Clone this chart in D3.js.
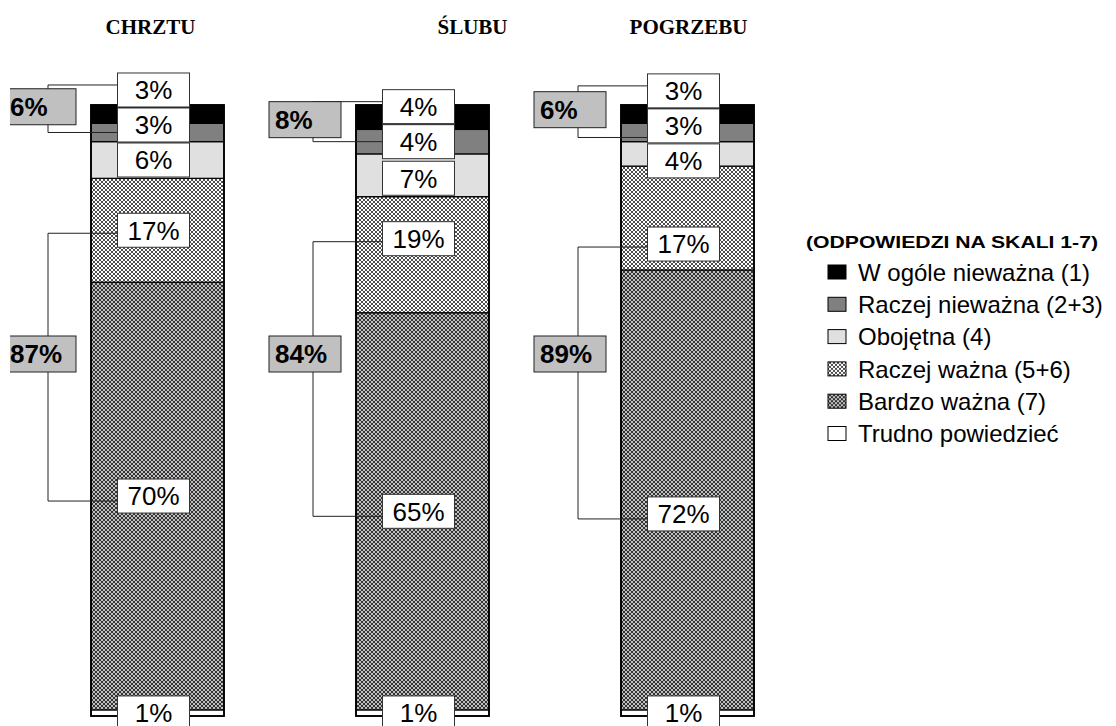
<!DOCTYPE html>
<html>
<head>
<meta charset="utf-8">
<script src="https://cdn.jsdelivr.net/npm/d3@7"></script>
<style>
  body { margin: 0; background: #fff; }
  text { font-family: Arial, "Liberation Sans", sans-serif; }
</style>
</head>
<body>
<svg id="chart" width="1116" height="726"></svg>
<script>
// Data
const events = ['CHRZTU', 'ŚLUBU', 'POGRZEBU']
const categories = ['W ogóle nieważna (1)', 'Raczej nieważna (2+3)', 'Obojętna (4)',
  'Raczej ważna (5+6)', 'Bardzo ważna (7)', 'Trudno powiedzieć']
const wOgole = [3, 4, 3]
const raczejNie = [3, 4, 3]
const obojetna = [6, 7, 4]
const raczejWazna = [17, 19, 17]
const bardzoWazna = [70, 65, 72]
const trudno = [1, 1, 1]
const legendTitle = '(ODPOWIEDZI NA SKALI 1-7)'

const keys = ['wOgole', 'raczejNie', 'obojetna', 'raczejWazna', 'bardzoWazna', 'trudno']
const series = { wOgole, raczejNie, obojetna, raczejWazna, bardzoWazna, trudno }

// Layout
const width = 1116
const height = 726
const barW = 133
const boxW = 72
const boxH = 34
const sumW = 72
const sumH = 36
const sumRowY = 354
const titleShift = [-7, 50, 1]
// hand-placed label nudges in the original (px)
const labelNudge = [
  {},
  { raczejWazna: -16, obojetna: 3 },
  { obojetna: 7, raczejWazna: 26, bardzoWazna: 24 }
]

const fills = {
  wOgole: '#000',
  raczejNie: '#808080',
  obojetna: '#e0e0e0',
  raczejWazna: 'url(#light)',
  bardzoWazna: 'url(#dark)',
  trudno: '#fff'
}

const svg = d3.select('#chart')
const defs = svg.append('defs')

let light = defs.append('pattern').attr('id', 'light')
  .attr('patternUnits', 'userSpaceOnUse').attr('width', 4).attr('height', 4)
light.append('rect').attr('width', 4).attr('height', 4).attr('fill', '#fff')
light.append('path').attr('d', 'M0,0L4,4M4,0L0,4')
  .attr('stroke', '#000').attr('stroke-width', 0.7)

let dark = defs.append('pattern').attr('id', 'dark')
  .attr('patternUnits', 'userSpaceOnUse').attr('width', 4).attr('height', 4)
dark.append('rect').attr('width', 4).attr('height', 4).attr('fill', '#9a9a9a')
dark.append('path').attr('d', 'M0,0L4,4M4,0L0,4')
  .attr('stroke', '#1a1a1a').attr('stroke-width', 0.8)
;[[2, 0], [2, 4], [0, 2], [4, 2]].forEach(p => {
  dark.append('circle').attr('cx', p[0]).attr('cy', p[1]).attr('r', 0.7).attr('fill', '#fff')
})

defs.append('clipPath').attr('id', 'clip')
  .append('rect').attr('x', 10).attr('y', 0).attr('width', width - 10).attr('height', height)

const x = d3.scaleBand()
  .domain(events)
  .range([91, 91 + 265 * 2 + barW])
  .paddingInner(1 - barW / 265)
  .paddingOuter(0)

const y = d3.scaleLinear().domain([0, 100]).range([716, 105])

const table = events.map((e, i) => {
  let row = { event: e }
  keys.forEach(k => { row[k] = series[k][i] })
  return row
})

const stack = d3.stack().keys(keys.slice().reverse())
const stacked = stack(table)

// Bars
let bars = svg.append('g')
stacked.forEach(s => {
  bars.selectAll(null)
    .data(s)
    .enter().append('rect')
    .attr('x', d => x(d.data.event))
    .attr('y', d => y(d[1]))
    .attr('width', x.bandwidth())
    .attr('height', d => y(d[0]) - y(d[1]))
    .attr('fill', fills[s.key])
    .attr('stroke', '#000')
    .attr('stroke-width', 1.2)
})
bars.selectAll('.outline')
  .data(events)
  .enter().append('rect')
  .attr('x', d => x(d))
  .attr('y', y(100))
  .attr('width', x.bandwidth())
  .attr('height', y(0) - y(100))
  .attr('fill', 'none')
  .attr('stroke', '#000')
  .attr('stroke-width', 1.8)

// Titles
svg.append('g').selectAll('text')
  .data(events)
  .enter().append('text')
  .attr('x', (d, i) => x(d) + x.bandwidth() / 2 + titleShift[i])
  .attr('y', 34)
  .attr('text-anchor', 'middle')
  .style('font-family', '"Liberation Serif", "Times New Roman", serif')
  .style('font-weight', 'bold')
  .style('font-size', '21px')
  .text(d => d)

// Label positions: segment centre, pushed up when boxes collide
const labels = events.map((e, i) => {
  let pos = {}
  let prevTop = Infinity
  stacked.forEach(s => {
    let d = s[i]
    let cy = (y(d[0]) + y(d[1])) / 2 + (labelNudge[i][s.key] || 0)
    if (cy + boxH / 2 > prevTop - 1) cy = prevTop - 1 - boxH / 2
    prevTop = cy - boxH / 2
    pos[s.key] = { cy: cy, mid: (y(d[0]) + y(d[1])) / 2 }
  })
  return pos
})

let ann = svg.append('g').attr('clip-path', 'url(#clip)')

events.forEach((e, i) => {
  let lab = labels[i]
  let cx = x(e) + x.bandwidth() / 2 - 4
  let boxLeft = cx - boxW / 2
  let bx = x(e) - 43

  // Bracket for unimportant answers
  let t1 = lab.wOgole.cy - 5
  let t2 = lab.raczejNie.mid + (i === 2 ? 5 : 0)
  ann.append('path')
    .attr('d', `M${boxLeft},${t1}H${bx}V${t2}H${boxLeft}`)
    .attr('fill', 'none').attr('stroke', '#222').attr('stroke-width', 1)

  // Bracket for important answers
  let b1 = lab.raczejWazna.cy + 3
  let b2 = lab.bardzoWazna.cy + 5
  ann.append('path')
    .attr('d', `M${boxLeft},${b1}H${bx}V${b2}H${boxLeft}`)
    .attr('fill', 'none').attr('stroke', '#222').attr('stroke-width', 1)

  // Value boxes
  keys.forEach(k => {
    let l = lab[k]
    ann.append('rect')
      .attr('x', boxLeft).attr('y', l.cy - boxH / 2)
      .attr('width', boxW).attr('height', boxH)
      .attr('fill', '#fff').attr('stroke', '#333').attr('stroke-width', 1)
    ann.append('text')
      .attr('x', cx).attr('y', l.cy)
      .attr('dy', '0.36em')
      .attr('text-anchor', 'middle')
      .style('font-size', '26px')
      .text(series[k][i] + '%')
  })

  // Summary boxes
  let sums = [
    { v: wOgole[i] + raczejNie[i], cy: (t1 + t2) / 2 - 2 },
    { v: raczejWazna[i] + bardzoWazna[i], cy: sumRowY }
  ]
  sums.forEach(s => {
    ann.append('rect')
      .attr('x', bx - 44).attr('y', s.cy - sumH / 2)
      .attr('width', sumW).attr('height', sumH)
      .attr('fill', '#c0c0c0').attr('stroke', '#222').attr('stroke-width', 1)
    ann.append('text')
      .attr('x', bx - 38).attr('y', s.cy)
      .attr('dy', '0.36em')
      .style('font-size', '26px')
      .style('font-weight', 'bold')
      .text(s.v + '%')
  })
})

// Legend
let legend = svg.append('g')
legend.append('text')
  .attr('x', 806).attr('y', 248)
  .attr('textLength', 292)
  .attr('lengthAdjust', 'spacingAndGlyphs')
  .style('font-size', '17px')
  .style('font-weight', 'bold')
  .text(legendTitle)

let item = legend.selectAll('.item')
  .data(keys)
  .enter().append('g')
  .attr('transform', (d, i) => `translate(828,${272 + i * 32.3})`)
item.append('rect')
  .attr('x', 0).attr('y', -7)
  .attr('width', 18).attr('height', 14)
  .attr('fill', d => fills[d])
  .attr('stroke', '#000').attr('stroke-width', 1)
item.append('text')
  .attr('x', 30).attr('y', 0)
  .attr('dy', '0.36em')
  .style('font-size', '24px')
  .text((d, i) => categories[i])
</script>
</body>
</html>
